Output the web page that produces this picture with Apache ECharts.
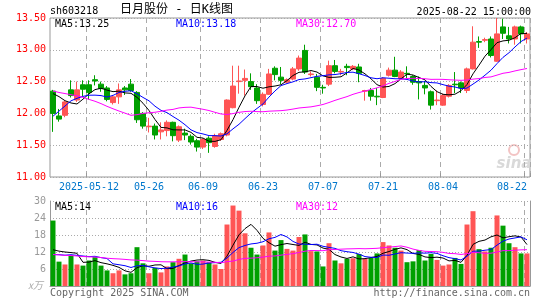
<!DOCTYPE html>
<html><head><meta charset="utf-8">
<script src="https://cdn.jsdelivr.net/npm/echarts@6/dist/echarts.min.js"></script>
<style>html,body{margin:0;padding:0;background:#fff}#c{width:545px;height:300px}</style>
</head><body><div id="c"></div>
<script>
// ---- data ----
const dates = ['04-29','04-30','05-06','05-07','05-08','05-09','05-12','05-13','05-14','05-15',
'05-16','05-19','05-20','05-21','05-22','05-23','05-26','05-27','05-28','05-29',
'05-30','06-03','06-04','06-05','06-06','06-09','06-10','06-11','06-12','06-13',
'06-16','06-17','06-18','06-19','06-20','06-23','06-24','06-25','06-26','06-27',
'06-30','07-01','07-02','07-03','07-04','07-07','07-08','07-09','07-10','07-11',
'07-14','07-15','07-16','07-17','07-18','07-21','07-22','07-23','07-24','07-25',
'07-28','07-29','07-30','07-31','08-01','08-04','08-05','08-06','08-07','08-08',
'08-11','08-12','08-13','08-14','08-15','08-18','08-19','08-20','08-21','08-22'];

const opens = [12.35,11.96,11.97,12.37,12.21,12.45,12.45,12.53,12.46,12.40,
12.17,12.26,12.40,12.46,12.33,12.00,11.79,11.80,11.71,11.73,
11.86,11.58,11.69,11.64,11.57,11.47,11.61,11.48,11.59,11.66,
12.09,12.50,12.52,12.50,12.40,12.14,12.30,12.71,12.57,12.49,
12.54,12.70,12.99,12.61,12.57,12.41,12.46,12.75,12.65,12.74,
12.70,12.73,12.35,12.36,12.27,12.25,12.60,12.68,12.55,12.63,
12.58,12.50,12.44,12.34,12.20,12.13,12.27,12.46,12.48,12.36,
12.70,13.13,13.15,13.17,12.82,13.36,13.22,13.17,13.36,13.17];

const closes = [12.00,11.91,12.18,12.28,12.37,12.38,12.33,12.51,12.39,12.22,
12.26,12.37,12.37,12.36,11.90,11.80,11.80,11.66,11.74,11.86,
11.65,11.79,11.66,11.55,11.47,11.59,11.54,11.65,11.68,12.21,
12.43,12.51,12.55,12.42,12.20,12.30,12.62,12.61,12.52,12.53,
12.70,12.87,12.65,12.62,12.41,12.40,12.75,12.66,12.66,12.72,
12.74,12.63,12.36,12.27,12.26,12.55,12.68,12.58,12.65,12.62,
12.49,12.48,12.40,12.13,12.21,12.28,12.44,12.45,12.40,12.70,
13.12,13.12,13.16,12.91,13.25,13.26,13.17,13.36,13.25,13.25];

const lows = [11.71,11.87,11.94,12.25,12.18,12.27,12.22,12.44,12.34,12.19,
12.14,12.15,12.29,12.34,11.85,11.76,11.70,11.59,11.59,11.64,
11.56,11.55,11.58,11.51,11.40,11.44,11.38,11.46,11.57,11.64,
12.08,12.31,12.28,12.37,12.15,12.11,12.29,12.52,12.46,12.47,
12.52,12.67,12.62,12.58,12.35,12.31,12.43,12.63,12.60,12.60,
12.68,12.49,12.20,12.20,12.13,12.24,12.58,12.57,12.55,12.55,
12.45,12.22,12.30,12.06,12.13,12.12,12.25,12.32,12.32,12.32,
12.69,13.03,13.12,12.88,12.81,13.17,13.10,13.08,13.10,13.10];

const highs = [12.37,12.07,12.20,12.52,12.50,12.52,12.52,12.60,12.50,12.43,
12.29,12.47,12.43,12.54,12.35,12.02,11.93,11.84,11.86,11.89,
11.87,11.81,11.76,11.67,11.60,11.61,11.64,11.68,11.70,12.22,
12.75,12.75,12.69,12.63,12.46,12.33,12.70,12.74,12.73,12.55,
12.73,12.91,13.08,12.66,12.62,12.45,12.83,12.84,12.70,12.78,
12.76,12.78,12.37,12.40,12.40,12.57,12.72,12.89,12.68,12.74,
12.60,12.58,12.51,12.36,12.36,12.31,12.46,12.65,12.50,12.72,
13.37,13.21,13.19,13.21,13.50,13.49,13.36,13.38,13.38,13.28];

const volumes = [23.1,8.6,7.6,10.8,7.6,7.2,9.0,10.2,7.2,5.5,
4.5,5.5,4.1,4.5,13.7,8.0,4.5,6.4,4.8,6.9,
8.4,9.6,11.1,8.0,8.7,9.0,8.4,7.6,6.0,21.7,
28.4,26.6,18.6,13.5,11.1,14.3,18.9,12.5,16.2,13.1,
12.5,17.3,18.2,12.3,12.2,6.9,15.1,9.0,8.0,9.6,
9.8,11.3,9.6,9.9,11.5,15.5,14.3,13.5,12.5,8.4,
8.7,12.7,9.0,11.3,9.2,7.2,7.6,9.9,7.8,21.7,
26.4,13.0,12.2,13.5,24.9,21.3,15.1,13.7,11.5,11.5];

// earlier sessions (not drawn), estimated from where the MA lines start
const prevCloses = [12.6,12.7,12.8,12.9,13.1,13.3,13.4,13.5,13.5,
13.4,13.45,13.35,13.4,
11.6,11.2,11.5,11.4,11.3,11.3,11.3,
11.11,11.38,11.46,11.98,12.07,12.15,12.50,12.46,12.45];
const prevVolumes = [12,13,12.5,12,13,12.5,12.2,12.5,13,
9,8.5,9,10,16,13,10,9,8.5,8,8.3,
9,9.5,9,10,9.5,11.1,9.1,11.8,8.9];

const tickDates = ['05-12','05-26','06-09','06-23','07-07','07-21','08-04','08-22'];
const tickLabels = ['2025-05-12','05-26','06-09','06-23','07-07','07-21','08-04','08-22'];
const priceLegend = ['MA5:13.25','MA10:13.18','MA30:12.70'];
const volLegend = ['MA5:14','MA10:16','MA30:12'];

// ---- build ----
function ma(values, prev, n) {
  const all = prev.concat(values), off = prev.length;
  return values.map((v, i) => {
    let s = 0;
    for (let k = 0; k < n; k++) s += all[off + i - k];
    return +(s / n).toFixed(3);
  });
}
const MONO = 'DejaVu Sans Mono';
const RED = '#ff5555', GREEN = '#00a000';
const GRIDC = '#aaaaaa', BORDER = '#999999';
const tickSet = new Set(tickDates);
const isTick = (idx, val) => tickSet.has(val);
const candle = dates.map((d, i) => [opens[i], closes[i], lows[i], highs[i]]);

const dashV = {show: true, interval: isTick, lineStyle: {color: GRIDC, type: [5, 4], width: 1}};
const dotH = {show: true, lineStyle: {color: GRIDC, type: [1, 2], width: 1}};

const chart = echarts.init(document.getElementById('c'));
const txt = (x, y, s, fill, align, extra) => ({
  type: 'text', x: x, y: y, silent: true,
  style: Object.assign({text: s, fill: fill, font: '10px "' + MONO + '"', textAlign: align || 'left', textVerticalAlign: 'middle'}, extra || {})
});

chart.setOption({
  animation: false,
  backgroundColor: '#fff',
  grid: [
    {left: 50, right: 15, top: 18, height: 159, show: true, borderColor: BORDER, borderWidth: 1, backgroundColor: 'transparent'},
    {left: 50, right: 15, top: 201, height: 85, show: false}
  ],
  xAxis: [
    {type: 'category', gridIndex: 0, data: dates, boundaryGap: true,
     axisLine: {show: false},
     axisTick: {show: true, inside: true, length: 4, interval: isTick, lineStyle: {color: BORDER}},
     axisLabel: {interval: isTick, color: '#0077cc', fontFamily: MONO, fontSize: 10, margin: 5,
       alignMaxLabel: 'right',
       formatter: v => tickLabels[tickDates.indexOf(v)]},
     splitLine: dashV},
    {type: 'category', gridIndex: 1, data: dates, boundaryGap: true, position: 'top',
     axisLine: {show: true, lineStyle: {color: BORDER}},
     axisTick: {show: false}, axisLabel: {show: false},
     splitLine: dashV}
  ],
  yAxis: [
    {type: 'value', gridIndex: 0, min: 11, max: 13.5, interval: 0.5,
     axisLine: {show: false}, axisTick: {show: false},
     axisLabel: {color: '#ff0000', fontFamily: MONO, fontSize: 10, margin: 4, formatter: v => v.toFixed(2)},
     splitLine: dotH},
    {type: 'value', gridIndex: 1, min: 0, max: 30, interval: 6,
     axisLine: {show: true, lineStyle: {color: BORDER}}, axisTick: {show: false},
     axisLabel: {color: '#999999', fontFamily: MONO, fontSize: 10, margin: 4, formatter: v => v === 0 ? '' : String(v)},
     splitLine: dotH},
    {type: 'value', gridIndex: 1, min: 0, max: 30, interval: 6, position: 'right',
     axisLine: {show: true, lineStyle: {color: BORDER}}, axisTick: {show: false},
     axisLabel: {show: false}, splitLine: {show: false}}
  ],
  series: [
    {type: 'candlestick', xAxisIndex: 0, yAxisIndex: 0, data: candle, barWidth: 5,
     itemStyle: {color: RED, color0: GREEN, borderColor: RED, borderColor0: GREEN, borderWidth: 1}},
    {type: 'line', xAxisIndex: 0, yAxisIndex: 0, data: ma(closes, prevCloses, 5), symbol: 'none', lineStyle: {color: '#000000', width: 1}},
    {type: 'line', xAxisIndex: 0, yAxisIndex: 0, data: ma(closes, prevCloses, 10), symbol: 'none', lineStyle: {color: '#0000ff', width: 1}},
    {type: 'line', xAxisIndex: 0, yAxisIndex: 0, data: ma(closes, prevCloses, 30), symbol: 'none', lineStyle: {color: '#ff00ff', width: 1}},
    {type: 'bar', xAxisIndex: 1, yAxisIndex: 1, data: volumes, barWidth: 5,
     itemStyle: {color: p => closes[p.dataIndex] >= opens[p.dataIndex] ? RED : GREEN}},
    {type: 'line', xAxisIndex: 1, yAxisIndex: 1, data: ma(volumes, prevVolumes, 5), symbol: 'none', lineStyle: {color: '#000000', width: 1}},
    {type: 'line', xAxisIndex: 1, yAxisIndex: 1, data: ma(volumes, prevVolumes, 10), symbol: 'none', lineStyle: {color: '#0000ff', width: 1}},
    {type: 'line', xAxisIndex: 1, yAxisIndex: 1, data: ma(volumes, prevVolumes, 30), symbol: 'none', lineStyle: {color: '#ff00ff', width: 1}}
  ],
  graphic: [
    txt(50, 11, 'sh603218', '#000'),
    {type: 'text', x: 120, y: 10, silent: true, style: {text: '日月股份 - 日K线图', fill: '#000', font: '12px "DejaVu Sans Mono", "Noto Sans CJK SC"', textVerticalAlign: 'middle'}},
    txt(531, 12.5, '2025-08-22 15:00:00', '#000', 'right'),
    txt(55, 24.5, priceLegend[0], '#000'),
    txt(176, 24.5, priceLegend[1], '#0000ff'),
    txt(296, 24.5, priceLegend[2], '#ff00ff'),
    txt(55, 207, volLegend[0], '#000'),
    txt(176, 207, volLegend[1], '#0000ff'),
    txt(296, 207, volLegend[2], '#ff00ff'),
    txt(28, 285, 'x万', '#aaaaaa', 'left', {font: 'italic 10px "Noto Sans CJK SC"'}),
    txt(50, 293, 'Copyright 2025 SINA.COM', '#666666'),
    txt(530, 293, 'http://finance.sina.com.cn', '#666666', 'right'),
    {type: 'circle', silent: true, shape: {cx: 514, cy: 150, r: 5}, style: {fill: 'none', stroke: '#f3c4c4', lineWidth: 2}},
    txt(514, 164, 'sina', '#d9d9d9', 'center', {font: 'italic bold 15px "DejaVu Sans"'})
  ]
});
</script></body></html>
